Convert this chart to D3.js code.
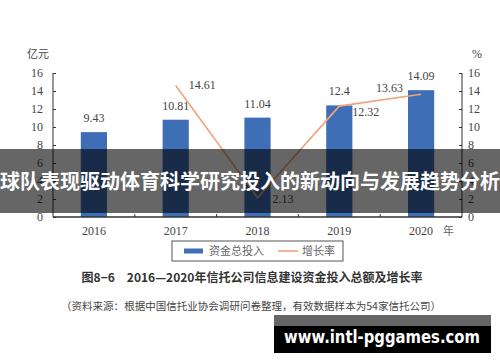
<!DOCTYPE html>
<html>
<head>
<meta charset="utf-8">
<script src="https://cdn.jsdelivr.net/npm/d3@7"></script>
<style>
  body { margin: 0; background: #fff; }
  svg { display: block; }
</style>
</head>
<body>
<script>
var years = ['2016', '2017', '2018', '2019', '2020'];
var invest = [9.43, 10.81, 11.04, 12.4, 14.09];
var growth = [null, 14.61, 2.13, 12.32, 13.63];
var yTicks = [0, 2, 4, 6, 8, 10, 12, 14, 16];

var width = 500, height = 362;
var margin = {top: 73, left: 53, right: 38, bottom: 145};
var plotW = width - margin.left - margin.right,
    plotH = height - margin.top - margin.bottom;

var svg = d3.select("body").append("svg")
    .attr("width", width)
    .attr("height", height);

var g = svg.append("g")
    .attr("transform", "translate(" + margin.left + "," + margin.top + ")");

var xScale = d3.scaleBand().domain(years).range([0, plotW]).padding(0);
var yScale = d3.scaleLinear().domain([0, 16]).range([plotH, 0]);
var y2Scale = d3.scaleLinear().domain([0, 16]).range([plotH, 0]);

var serif = "'Liberation Serif', 'DejaVu Serif', serif";
var txt = "#444";
var barW = xScale.bandwidth() * 0.32;
var cx = function(i) { return xScale(years[i]) + xScale.bandwidth() / 2; };

// axis-y left
var yl = g.append("g")
    .call(d3.axisRight(yScale).tickValues(yTicks).tickSize(3).tickFormat(""));
yl.selectAll("line, path").attr("stroke", "#333");
yl.select(".domain").attr("d", "M0," + yScale(16) + "V" + yScale(0));
g.selectAll(".ylab").data(yTicks).enter().append("text")
    .attr("x", -10).attr("y", function(d) { return yScale(d); })
    .attr("dy", "0.35em").attr("text-anchor", "end")
    .attr("font-family", serif).attr("font-size", "12px").attr("fill", txt)
    .text(function(d) { return d; });
g.append("text").attr("x", -26).attr("y", -15)
    .attr("font-family", "'Noto Sans CJK SC', sans-serif").attr("font-size", "11px").attr("fill", txt)
    .text("亿元");

// axis-y right
var yr = g.append("g").attr("transform", "translate(" + plotW + ",0)")
    .call(d3.axisLeft(y2Scale).tickValues(yTicks).tickSize(3).tickFormat(""));
yr.selectAll("line, path").attr("stroke", "#333");
yr.select(".domain").attr("d", "M0," + y2Scale(16) + "V" + y2Scale(0));
g.selectAll(".y2lab").data(yTicks).enter().append("text")
    .attr("x", plotW + 6).attr("y", function(d) { return y2Scale(d); })
    .attr("dy", "0.35em").attr("text-anchor", "start")
    .attr("font-family", serif).attr("font-size", "12px").attr("fill", txt)
    .text(function(d) { return d; });
g.append("text").attr("x", plotW + 10).attr("y", -15)
    .attr("font-family", serif).attr("font-size", "12px").attr("fill", txt)
    .text("%");

// bars
g.selectAll(".bar").data(invest).enter().append("rect")
    .attr("x", function(d, i) { return cx(i) - barW / 2; })
    .attr("y", function(d) { return yScale(d); })
    .attr("width", barW)
    .attr("height", function(d) { return plotH - yScale(d); })
    .attr("fill", "#3d6eb6");

g.selectAll(".blab").data(invest).enter().append("text")
    .attr("x", function(d, i) { return cx(i); })
    .attr("y", function(d) { return yScale(d) - 10; })
    .attr("text-anchor", "middle")
    .attr("font-family", serif).attr("font-size", "12px").attr("fill", txt)
    .text(function(d) { return d; });

// axis-x
g.append("line").attr("x1", 0).attr("x2", plotW).attr("y1", plotH).attr("y2", plotH)
    .attr("stroke", "#333").attr("stroke-width", 1.5);
g.selectAll(".xtick").data(years.slice(1)).enter().append("line")
    .attr("x1", function(d) { return xScale(d); })
    .attr("x2", function(d) { return xScale(d); })
    .attr("y1", plotH).attr("y2", plotH - 3).attr("stroke", "#333");
g.selectAll(".xlab").data(years).enter().append("text")
    .attr("x", function(d, i) { return cx(i); })
    .attr("y", plotH + 14).attr("dy", "0.35em").attr("text-anchor", "middle")
    .attr("font-family", serif).attr("font-size", "12px").attr("fill", txt)
    .text(function(d) { return d; });
g.append("text").attr("x", cx(4) + 22).attr("y", plotH + 14).attr("dy", "0.35em")
    .attr("font-family", "'Noto Sans CJK SC', sans-serif").attr("font-size", "11px").attr("fill", "#666")
    .text("年");

// line chart
var line = d3.line()
    .defined(function(d) { return d != null; })
    .x(function(d, i) { return cx(i); })
    .y(function(d) { return y2Scale(d); });
g.append("path").attr("d", line(growth))
    .attr("fill", "none").attr("stroke", "#f0a47a").attr("stroke-width", 1.6);

var gOff = [[13, -1], [15, 1], [13, 6], [-45, -7]];
g.selectAll(".glab").data(growth.slice(1)).enter().append("text")
    .attr("x", function(d, i) { return cx(i + 1) + gOff[i][0]; })
    .attr("y", function(d, i) { return y2Scale(d) + gOff[i][1]; })
    .attr("dy", "0.35em")
    .attr("font-family", serif).attr("font-size", "12px").attr("fill", txt)
    .text(function(d) { return d; });

// legend
var lg = svg.append("g").attr("transform", "translate(172,241)");
lg.append("rect").attr("width", 171).attr("height", 20)
    .attr("fill", "#fff").attr("stroke", "#555").attr("stroke-width", 1);
lg.append("rect").attr("x", 12).attr("y", 7.5).attr("width", 19).attr("height", 5).attr("fill", "#3d6eb6");
lg.append("text").attr("x", 37).attr("y", 10).attr("dy", "0.35em")
    .attr("font-family", "'Noto Sans CJK SC', sans-serif").attr("font-size", "11px").attr("fill", "#666")
    .text("资金总投入");
lg.append("line").attr("x1", 106).attr("x2", 126).attr("y1", 10).attr("y2", 10)
    .attr("stroke", "#f0a47a").attr("stroke-width", 1.6);
lg.append("text").attr("x", 130).attr("y", 10).attr("dy", "0.35em")
    .attr("font-family", "'Noto Sans CJK SC', sans-serif").attr("font-size", "11px").attr("fill", "#666")
    .text("增长率");

// caption
svg.append("text").attr("x", 252).attr("y", 278).attr("dy", "0.35em").attr("text-anchor", "middle")
    .attr("font-family", "'Noto Sans CJK SC', sans-serif").attr("font-weight", "bold")
    .attr("font-size", "12px").attr("fill", "#333")
    .text("图8−6　2016—2020年信托公司信息建设资金投入总额及增长率");
svg.append("text").attr("x", 251).attr("y", 306).attr("dy", "0.35em").attr("text-anchor", "middle")
    .attr("font-family", "'Noto Sans CJK SC', sans-serif")
    .attr("font-size", "10.5px").attr("fill", "#444")
    .attr("textLength", 380).attr("lengthAdjust", "spacing")
    .text("（资料来源：根据中国信托业协会调研问卷整理，有效数据样本为54家信托公司）");

// title overlay
svg.append("rect").attr("x", 0).attr("y", 149).attr("width", width).attr("height", 64)
    .attr("fill", "#000").attr("fill-opacity", 0.6);
svg.append("text").attr("x", 250).attr("y", 182).attr("dy", "0.35em").attr("text-anchor", "middle")
    .attr("font-family", "'Noto Sans CJK SC', sans-serif").attr("font-weight", "bold")
    .attr("font-size", "20px").attr("fill", "#fff")
    .text("球队表现驱动体育科学研究投入的新动向与发展趋势分析");

// watermark
svg.append("rect").attr("x", 274).attr("y", 315).attr("width", 217).attr("height", 38)
    .attr("fill", "#666");
svg.append("rect").attr("x", 274).attr("y", 326).attr("width", 217).attr("height", 27)
    .attr("fill", "#000");
svg.append("text").attr("x", 382).attr("y", 337).attr("dy", "0.35em").attr("text-anchor", "middle")
    .attr("font-family", "'DejaVu Sans', sans-serif").attr("font-weight", "bold")
    .attr("font-size", "17px").attr("fill", "#fff")
    .attr("textLength", 196).attr("lengthAdjust", "spacingAndGlyphs")
    .text("www.intl-pggames.com");
</script>
</body>
</html>
